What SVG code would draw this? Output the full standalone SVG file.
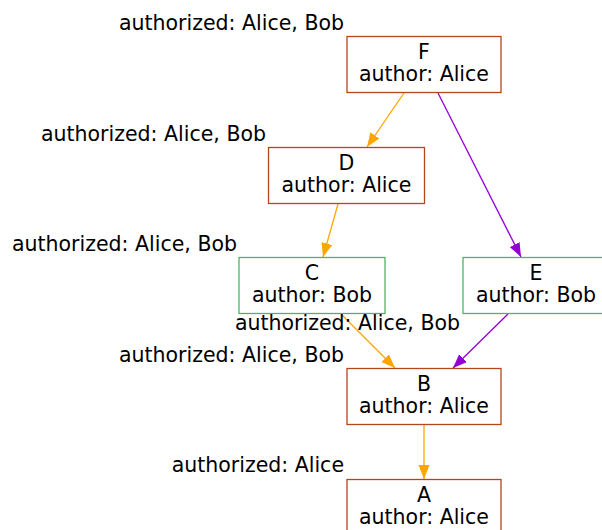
<svg xmlns="http://www.w3.org/2000/svg" width="602" height="530" viewBox="0 0 602 530">
<style>
text{font-family:"DejaVu Sans",sans-serif;font-size:20.5px;fill:#000}
.n text{text-anchor:middle}
.lbl{text-anchor:end}
.alice{fill:#fff;stroke:#b5451b;stroke-width:1.3}
.bob{fill:#fff;stroke:#4db465;stroke-width:1.3}
.o{stroke:#ffa500;stroke-width:1.3;fill:none}
.p{stroke:#9400d3;stroke-width:1.3;fill:none}
</style>
<defs>
<marker id="ao" markerUnits="userSpaceOnUse" markerWidth="15" markerHeight="12" refX="14" refY="5.5" orient="auto"><path d="M0,0 L14,5.5 L0,11 z" fill="#ffa500"/></marker>
<marker id="ap" markerUnits="userSpaceOnUse" markerWidth="15" markerHeight="12" refX="14" refY="5.5" orient="auto"><path d="M0,0 L14,5.5 L0,11 z" fill="#9400d3"/></marker>
</defs>
<g id="connectors">
<line class="o" x1="404" y1="93" x2="367" y2="147" marker-end="url(#ao)"/>
<line class="p" x1="438" y1="93" x2="521" y2="257" marker-end="url(#ap)"/>
<line class="o" x1="338" y1="204" x2="323" y2="257" marker-end="url(#ao)"/>
<line class="o" x1="341" y1="314" x2="395" y2="368" marker-end="url(#ao)"/>
<line class="p" x1="508" y1="314" x2="453" y2="368" marker-end="url(#ap)"/>
<line class="o" x1="424" y1="425" x2="424" y2="479" marker-end="url(#ao)"/>
</g>
<g id="F" class="n"><rect class="alice" x="347" y="36.5" width="154" height="56"/><text x="424" y="59">F</text><text x="424" y="81">author: Alice</text></g>
<g id="D" class="n"><rect class="alice" x="268.5" y="147.5" width="156" height="56"/><text x="346.5" y="170">D</text><text x="346.5" y="192">author: Alice</text></g>
<g id="C" class="n"><rect class="bob" x="239" y="257.5" width="146" height="56"/><text x="312" y="280">C</text><text x="312" y="302">author: Bob</text></g>
<g id="E" class="n"><rect class="bob" x="463" y="257.5" width="146" height="56"/><text x="536" y="280">E</text><text x="536" y="302">author: Bob</text></g>
<g id="B" class="n"><rect class="alice" x="347" y="368.5" width="154" height="56"/><text x="424" y="391">B</text><text x="424" y="413">author: Alice</text></g>
<g id="A" class="n"><rect class="alice" x="347" y="479.5" width="154" height="56"/><text x="424" y="502">A</text><text x="424" y="524">author: Alice</text></g>
<g id="labels">
<text class="lbl" x="344" y="29.5">authorized: Alice, Bob</text>
<text class="lbl" x="266" y="140.5">authorized: Alice, Bob</text>
<text class="lbl" x="237" y="251">authorized: Alice, Bob</text>
<text class="lbl" x="460" y="330">authorized: Alice, Bob</text>
<text class="lbl" x="344" y="361.5">authorized: Alice, Bob</text>
<text class="lbl" x="344" y="472">authorized: Alice</text>
</g>
</svg>
